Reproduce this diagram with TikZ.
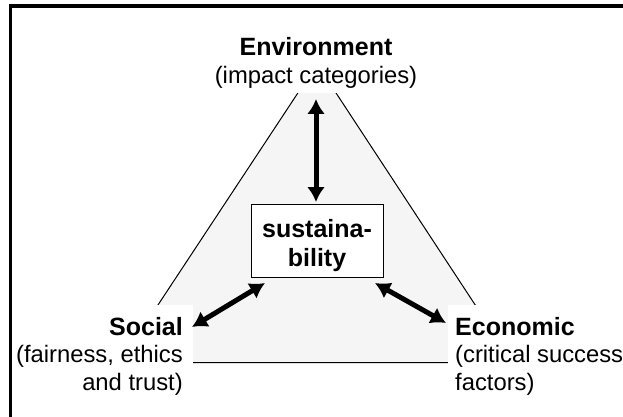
\documentclass[tikz,border=0pt]{standalone}
\usepackage{fontspec}
\setmainfont{Liberation Sans}
\usetikzlibrary{arrows.meta}
\begin{document}
\begin{tikzpicture}[x=1pt,y=-1pt,
  heading/.style={font=\fontsize{25}{28}\selectfont\bfseries, inner sep=0pt},
  subtext/.style={font=\fontsize{23.8}{28}\selectfont, inner sep=0pt},
  link/.style={line width=5pt, {Latex[length=15pt,width=18pt]}-{Latex[length=15pt,width=18pt]}},
  mask/.style={fill=white},
]
\useasboundingbox (0,0) rectangle (623,417);
\fill[white] (0,0) rectangle (623,417);
% frame
\draw[line width=3.5pt] (10.5,417) -- (10.5,5.8) -- (623,5.8);
% triangle
\coordinate (A) at (317,64);
\coordinate (B) at (120,362.5);
\coordinate (C) at (513,362.5);
\filldraw[fill=black!4, draw=black, line width=1pt] (A) -- (B) -- (C) -- cycle;
% white masks behind the labels
\fill[mask] (200,20) rectangle (430,93);
\fill[mask] (100,305) rectangle (193,405);
\fill[mask] (448,305) rectangle (560,405);
% labels
\node[heading, anchor=base] (env) at (316,56) {Environment};
\node[subtext, anchor=base] (envsub) at (316,84) {(impact categories)};
\node[heading, anchor=base east] (soc) at (183,335) {Social};
\node[subtext, anchor=base east, align=right] (socsub) at (183,390) {(fairness, ethics\\and trust)};
\node[heading, anchor=base west] (eco) at (455,335) {Economic};
\node[subtext, anchor=base west, align=left] (ecosub) at (455,390) {(critical success\\factors)};
% sustainability box
\node[draw=black, fill=white, line width=1pt, minimum width=132pt, minimum height=73pt, inner sep=0pt] (sus) at (317,240.5) {};
\node[font=\fontsize{25}{29}\selectfont\bfseries, align=center, inner sep=0pt, anchor=base] (sustext) at (317,266) {sustaina-\\bility};
% arrow ends
\coordinate (envtip) at (316,99);
\coordinate (sustop) at (316,202);
\coordinate (susleft) at (265,283);
\coordinate (soctip) at (192,327);
\coordinate (susright) at (375,283);
\coordinate (ecotip) at (446,323);
\draw[link] (envtip) -- (sustop);
\draw[link] (susleft) -- (soctip);
\draw[link] (susright) -- (ecotip);
\end{tikzpicture}
\end{document}
